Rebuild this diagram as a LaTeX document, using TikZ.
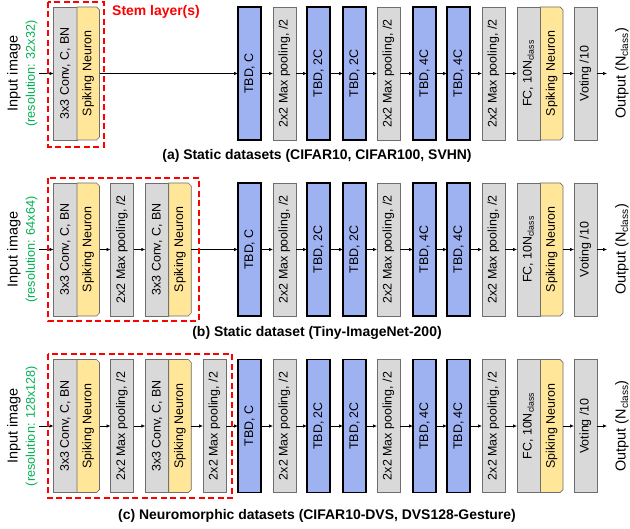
\documentclass[tikz,border=0pt]{standalone}
\usepackage{fontspec}
\setmainfont{Liberation Sans}
\usetikzlibrary{arrows.meta}
\definecolor{boxgray}{HTML}{D9D9D9}
\definecolor{boxblue}{HTML}{9EB1F0}
\definecolor{boxyellow}{HTML}{FFE699}
\definecolor{resgreen}{HTML}{00B050}
\definecolor{edgegray}{HTML}{6E6E6E}
\tikzset{
  blk/.style={draw=edgegray, line width=0.7bp, inner sep=0pt, outer sep=0pt,
    minimum height=133bp, anchor=center, font=\fontsize{12.5}{14}\selectfont},
  graybox/.style={blk, fill=boxgray, minimum width=23bp},
  convbox/.style={blk, fill=boxgray, minimum width=23.5bp},
  spktext/.style={inner sep=0pt, outer sep=0pt, minimum width=22.5bp, minimum height=133bp,
    anchor=center, font=\fontsize{12.5}{14}\selectfont},
  spkfill/.style={fill=boxyellow, draw=edgegray, line width=0.7bp},
  tbdbox/.style={blk, draw=black, line width=1.3bp, fill=boxblue, minimum width=23bp},
  conn/.style={-{Latex[length=4bp,width=3.5bp]}, line width=0.7bp},
  stem/.style={draw=red, line width=1.6bp, dash pattern=on 6bp off 3.5bp},
  captxt/.style={font=\bfseries\fontsize{14}{16}\selectfont},
  bigtxt/.style={font=\fontsize{14.5}{16}\selectfont, rotate=90},
  restxt/.style={font=\fontsize{12.7}{14}\selectfont, rotate=90, text=resgreen},
}
\newcommand\spkshape[3]{%
  \path[spkfill] (#2-11.25,#3-66.5) -- (#2+8.25,#3-66.5) -- (#2+11.25,#3-63.5)
     -- (#2+11.25,#3+63.5) -- (#2+8.25,#3+66.5) -- (#2-11.25,#3+66.5) -- cycle;
  \node[spktext] (#1) at (#2,#3) {\rotatebox{90}{Spiking Neuron}};
}
\newcommand\convpair[4]{% conv name, spk name, conv x center, y
  \node[convbox] (#1) at (#3,#4) {\rotatebox{90}{3x3 Conv, C, BN}};
  \spkshape{#2}{#3+23}{#4}
}
\newcommand\rightpart[2]{%
  \node[tbdbox] (#1t1) at (249.5,#2) {\rotatebox{90}{TBD, C}};
  \node[graybox] (#1p1) at (284.5,#2) {\rotatebox{90}{2x2 Max pooling, /2}};
  \node[tbdbox] (#1t2) at (318.5,#2) {\rotatebox{90}{TBD, 2C}};
  \node[tbdbox] (#1t3) at (354.5,#2) {\rotatebox{90}{TBD, 2C}};
  \node[graybox] (#1p2) at (388.5,#2) {\rotatebox{90}{2x2 Max pooling, /2}};
  \node[tbdbox] (#1t4) at (424.5,#2) {\rotatebox{90}{TBD, 4C}};
  \node[tbdbox] (#1t5) at (458.5,#2) {\rotatebox{90}{TBD, 4C}};
  \node[graybox] (#1p3) at (493.5,#2) {\rotatebox{90}{2x2 Max pooling, /2}};
  \node[graybox] (#1fc) at (528.5,#2) {\rotatebox{90}{FC, 10N\textsubscript{class}}};
  \spkshape{#1fs}{551.75}{#2}
  \node[graybox] (#1v) at (585.5,#2) {\rotatebox{90}{Voting /10}};
  \coordinate (#1out) at (607,#2);
  \node[bigtxt] (#1otxt) at (622,#2) {Output (N\textsubscript{class})};
  \draw[conn] (#1t1) -- (#1p1);
  \draw[conn] (#1p1) -- (#1t2);
  \draw[conn] (#1t2) -- (#1t3);
  \draw[conn] (#1t3) -- (#1p2);
  \draw[conn] (#1p2) -- (#1t4);
  \draw[conn] (#1t4) -- (#1t5);
  \draw[conn] (#1t5) -- (#1p3);
  \draw[conn] (#1p3) -- (#1fc);
  \draw[conn] (#1fs) -- (#1v);
  \draw[conn] (#1v) -- (#1out);
}
\newcommand\inputpart[3]{% prefix, y, resolution
  \coordinate (#1in) at (39,#2);
  \node[bigtxt] (#1itxt) at (14,#2) {Input image};
  \node[restxt] (#1rtxt) at (31.5,#2) {(resolution: #3)};
}
\begin{document}
\begin{tikzpicture}[x=1bp,y=-1bp]
\useasboundingbox (0,0) rectangle (630,529);
% ---------- row (a)
\inputpart{a}{73.5}{32x32}
\convpair{ac1}{as1}{65.25}{73.5}
\rightpart{a}{73.5}
\draw[conn] (ain) -- (ac1);
\draw[conn] (as1) -- (at1);
\draw[stem] (48,2) rectangle (104,147);
\node[font=\bfseries\fontsize{14}{16}\selectfont, text=red] (stemlbl) at (156,11.5) {Stem layer(s)};
\node[captxt] (capa) at (317,156) {(a) Static datasets (CIFAR10, CIFAR100, SVHN)};
% ---------- row (b)
\inputpart{b}{249.5}{64x64}
\convpair{bc1}{bs1}{65.25}{249.5}
\node[graybox] (bp0) at (122,249.5) {\rotatebox{90}{2x2 Max pooling, /2}};
\convpair{bc2}{bs2}{157}{249.5}
\rightpart{b}{249.5}
\draw[conn] (bin) -- (bc1);
\draw[conn] (bs1) -- (bp0);
\draw[conn] (bp0) -- (bc2);
\draw[conn] (bs2) -- (bt1);
\draw[stem] (48,178) rectangle (199,321);
\node[captxt] (capb) at (317,333) {(b) Static dataset (Tiny-ImageNet-200)};
% ---------- row (c)
\inputpart{c}{426}{128x128}
\convpair{cc1}{cs1}{65.25}{426}
\node[graybox] (cp0) at (122,426) {\rotatebox{90}{2x2 Max pooling, /2}};
\convpair{cc2}{cs2}{157}{426}
\node[graybox] (cp00) at (214.5,426) {\rotatebox{90}{2x2 Max pooling, /2}};
\rightpart{c}{426}
\draw[conn] (cin) -- (cc1);
\draw[conn] (cs1) -- (cp0);
\draw[conn] (cp0) -- (cc2);
\draw[conn] (cs2) -- (cp00);
\draw[conn] (cp00) -- (ct1);
\draw[stem] (48,354) rectangle (232,498);
\node[captxt] (capc) at (317,516) {(c) Neuromorphic datasets (CIFAR10-DVS, DVS128-Gesture)};
\end{tikzpicture}
\end{document}
